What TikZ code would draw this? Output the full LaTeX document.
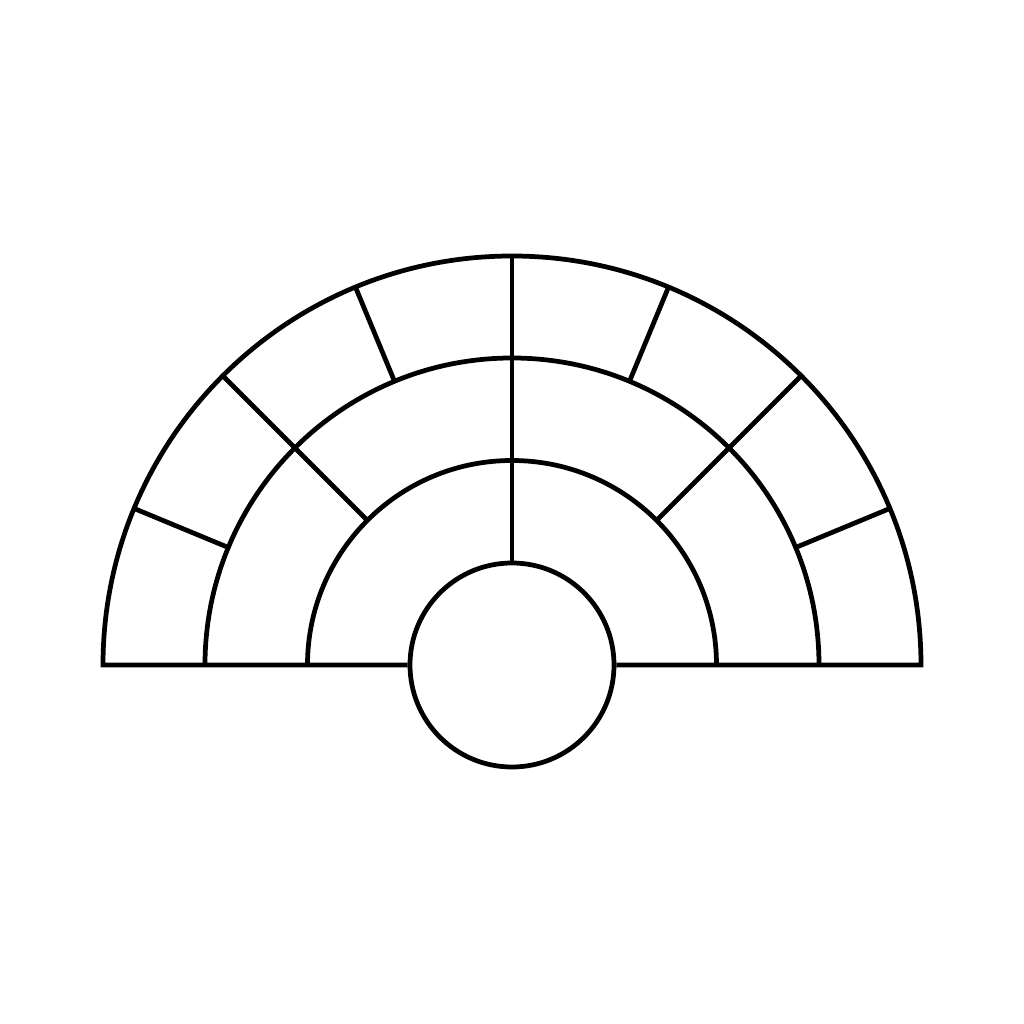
\documentclass[tikz,border=0pt]{standalone}
\usetikzlibrary{calc}
\begin{document}
\begin{tikzpicture}[x=1cm,y=1cm,
  fanline/.style={draw=black,line width=1.35pt,line join=miter}]
\useasboundingbox (0,0) rectangle (10.24,10.24);
\coordinate (C) at (5.12,3.59);
\def\ra{1.02}\def\rb{2.045}\def\rc{3.07}\def\rd{4.09}
% center circle
\node[fanline,circle,minimum size=2.04cm,inner sep=0pt] (centre) at (C) {};
% arcs
\draw[fanline] ($(C)+(\rb,0)$) arc[start angle=0,end angle=180,radius=\rb];
\draw[fanline] ($(C)+(\rc,0)$) arc[start angle=0,end angle=180,radius=\rc];
\draw[fanline] (centre.west) -- ($(C)+(-\rd,0)$) arc[start angle=180,end angle=0,radius=\rd] -- (centre.east);
% radial dividers
\draw[fanline] (centre.north) -- ($(C)+(90:\rd)$);
\foreach \a in {45,135}
  \draw[fanline] ($(C)+(\a:\rb)$) -- ($(C)+(\a:\rd)$);
\foreach \a in {22.5,67.5,112.5,157.5}
  \draw[fanline] ($(C)+(\a:\rc)$) -- ($(C)+(\a:\rd)$);
\end{tikzpicture}
\end{document}
